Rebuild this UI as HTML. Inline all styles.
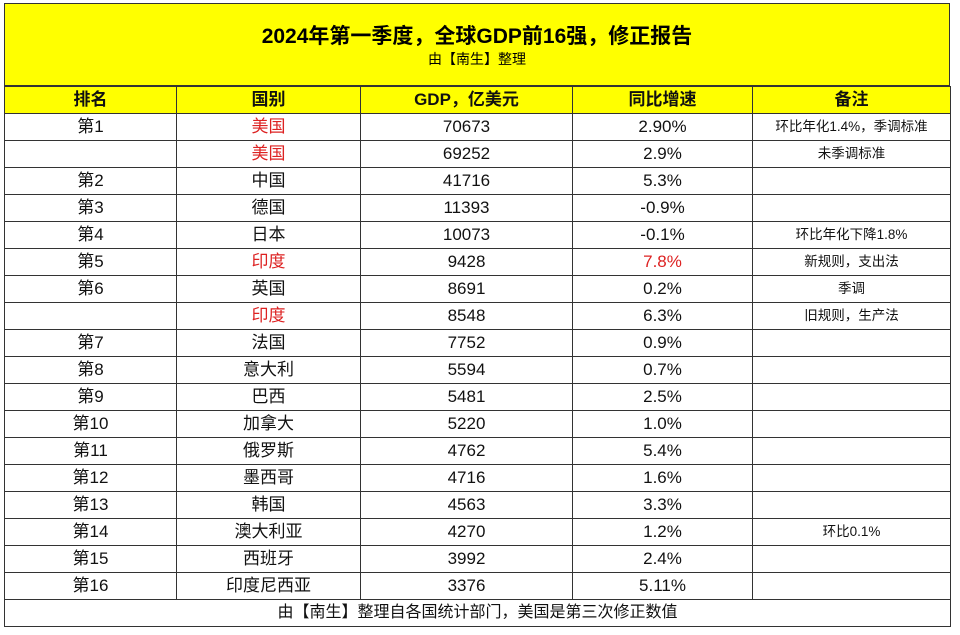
<!DOCTYPE html><html><head><meta charset="utf-8"><style>
body{margin:0;width:960px;height:635px;background:#fff;overflow:hidden;font-family:"Liberation Sans","Noto Sans CJK SC",sans-serif;}
.t{position:absolute;left:4px;top:3px;width:946px;height:83px;background:#ffff00;border:1px solid #333;box-sizing:border-box;}
.t .a{position:absolute;top:16px;width:100%;text-align:center;font-size:21px;font-weight:bold;}
.t .b{position:absolute;top:45px;width:100%;text-align:center;font-size:14px;}
table{position:absolute;left:4px;top:86px;border-collapse:collapse;width:946px;table-layout:fixed;}
td{border:1px solid #333;height:26px;padding:0;text-align:center;font-size:17px;color:#111;line-height:26px;}
tr.h td{background:#ffff00;font-weight:bold;height:26px;}
td.n{font-size:13.5px;}
.r{color:#d22;}
</style></head><body>
<div class="t"><div class="a">2024年第一季度，全球GDP前16强，修正报告</div><div class="b">由【南生】整理</div></div>
<table>
<colgroup><col style="width:172px"><col style="width:184px"><col style="width:212px"><col style="width:180px"><col style="width:198px"></colgroup>
<tr class="h"><td>排名</td><td>国别</td><td>GDP，亿美元</td><td>同比增速</td><td>备注</td></tr>
<tr><td>第1</td><td class="r">美国</td><td>70673</td><td>2.90%</td><td class="n">环比年化1.4%，季调标准</td></tr>
<tr><td></td><td class="r">美国</td><td>69252</td><td>2.9%</td><td class="n">未季调标准</td></tr>
<tr><td>第2</td><td>中国</td><td>41716</td><td>5.3%</td><td class="n"></td></tr>
<tr><td>第3</td><td>德国</td><td>11393</td><td>-0.9%</td><td class="n"></td></tr>
<tr><td>第4</td><td>日本</td><td>10073</td><td>-0.1%</td><td class="n">环比年化下降1.8%</td></tr>
<tr><td>第5</td><td class="r">印度</td><td>9428</td><td class="r">7.8%</td><td class="n">新规则，支出法</td></tr>
<tr><td>第6</td><td>英国</td><td>8691</td><td>0.2%</td><td class="n">季调</td></tr>
<tr><td></td><td class="r">印度</td><td>8548</td><td>6.3%</td><td class="n">旧规则，生产法</td></tr>
<tr><td>第7</td><td>法国</td><td>7752</td><td>0.9%</td><td class="n"></td></tr>
<tr><td>第8</td><td>意大利</td><td>5594</td><td>0.7%</td><td class="n"></td></tr>
<tr><td>第9</td><td>巴西</td><td>5481</td><td>2.5%</td><td class="n"></td></tr>
<tr><td>第10</td><td>加拿大</td><td>5220</td><td>1.0%</td><td class="n"></td></tr>
<tr><td>第11</td><td>俄罗斯</td><td>4762</td><td>5.4%</td><td class="n"></td></tr>
<tr><td>第12</td><td>墨西哥</td><td>4716</td><td>1.6%</td><td class="n"></td></tr>
<tr><td>第13</td><td>韩国</td><td>4563</td><td>3.3%</td><td class="n"></td></tr>
<tr><td>第14</td><td>澳大利亚</td><td>4270</td><td>1.2%</td><td class="n">环比0.1%</td></tr>
<tr><td>第15</td><td>西班牙</td><td>3992</td><td>2.4%</td><td class="n"></td></tr>
<tr><td>第16</td><td>印度尼西亚</td><td>3376</td><td>5.11%</td><td class="n"></td></tr>
<tr><td colspan="5" style="font-size:16px">由【南生】整理自各国统计部门，美国是第三次修正数值</td></tr>
</table>
</body></html>
